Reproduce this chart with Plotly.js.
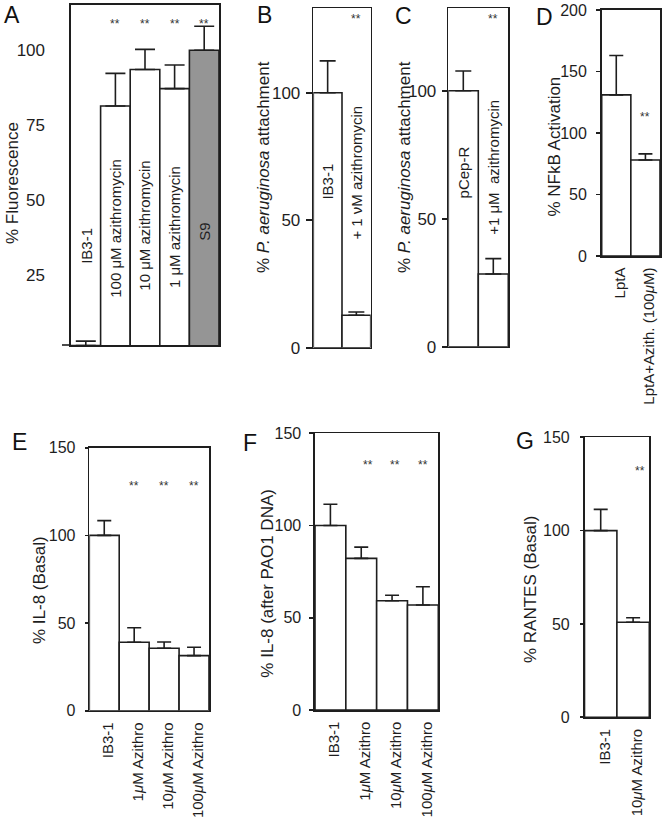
<!DOCTYPE html>
<html><head><meta charset="utf-8">
<script src="https://cdn.plot.ly/plotly-3.0.1.min.js"></script>
<style>html,body{margin:0;padding:0;background:#fff}#chart{width:665px;height:832px}</style>
</head><body><div id="chart"></div>
<script>
// ---------- data ----------
const catsA = ["IB3-1", "100 μM azithromycin", "10 μM azithromycin", "1 μM azithromycin", "S9"];
const valsA = [1.5, 81.4, 93.6, 87.2, 100];
const errA  = [1.5, 10.9, 6.7, 7.9, 8];
const sigA  = ["", "**", "**", "**", "**"];

const catsB = ["IB3-1", "+ 1 νM azithromycin"];
const valsB = [100, 12.7];
const errB  = [12.5, 1.3];
const sigB  = ["", "**"];

const catsC = ["pCep-R", "+1 μM\u00a0 azithromycin"];
const valsC = [100, 28.4];
const errC  = [7.7, 6];
const sigC  = ["", "**"];

const catsD = ["LptA", "LptA+Azith. (100<i>μ</i>M)"];
const valsD = [131, 78];
const errD  = [32, 5];
const sigD  = ["", "**"];

const catsE = ["IB3-1", "1<i>μ</i>M Azithro", "10<i>μ</i>M Azithro", "100<i>μ</i>M Azithro"];
const valsE = [100, 39, 35.6, 31.4];
const errE  = [8.4, 8.3, 3.6, 4.8];
const sigE  = ["", "**", "**", "**"];

const catsF = ["IB3-1", "1<i>μ</i>M Azithro", "10<i>μ</i>M Azithro", "100<i>μ</i>M Azithro"];
const valsF = [100, 82.2, 59.2, 56.9];
const errF  = [11.5, 6.1, 3, 9.9];
const sigF  = ["", "**", "**", "**"];

const catsG = ["IB3-1", "10<i>μ</i>M Azithro"];
const valsG = [100, 50.9];
const errG  = [11.4, 2.4];
const sigG  = ["", "**"];

// ---------- layout helpers ----------
const W = 665, H = 832;
const FONT = '"Liberation Sans", Arial, Helvetica, sans-serif';
const INK = '#1e1e1e';
const dx = (l, r) => [l / W, r / W];
const dy = (t, b) => [1 - b / H, 1 - t / H];

const panels = [
  {cats: catsA, vals: valsA, err: errA, sig: sigA, colors: ['#fff','#fff','#fff','#fff','#959595'],
   x: [71, 219], y: [5, 345], range: [1.7, 115.1], tickvals: [25, 50, 75, 100], ticklen: 0, stand: 21, tfs: 17,
   starY: 108.7, cap: 10, title: '% Fluorescence', tpos: [12, 183], letter: 'A', lpos: [11.5, 15],
   showX: false, labelY: [34.7, 40.6, 41.5, 40.9, 39.5]},
  {cats: catsB, vals: valsB, err: errB, sig: sigB,
   x: [313.3, 370.7], y: [8.3, 347.7], range: [0, 133.1], tickvals: [0, 50, 100], ticklen: 6, stand: 2, tfs: 17,
   starY: 129, cap: 8, title: '% <i>P. aeruginosa</i> attachment', tpos: [263, 167], letter: 'B', lpos: [264.5, 15],
   showX: false, labelY: [65, 68.8]},
  {cats: catsC, vals: valsC, err: errC, sig: sigC,
   x: [448.3, 508.3], y: [8.3, 346.7], range: [0, 132.2], tickvals: [0, 50, 100], ticklen: 5, stand: 2, tfs: 17,
   starY: 128, cap: 8, title: '% <i>P. aeruginosa</i> attachment', tpos: [404, 167], letter: 'C', lpos: [403, 16],
   showX: false, labelY: [68.2, 70]},
  {cats: catsD, vals: valsD, err: errD, sig: sigD,
   x: [601.7, 660], y: [10, 256], range: [0, 200], tickvals: [0, 50, 100, 150, 200], ticklen: 4, stand: 6, tfs: 16,
   starY: 112.8, cap: 7, title: '% NFkB Activation', tpos: [553.5, 147], letter: 'D', lpos: [544, 17],
   showX: true},
  {cats: catsE, vals: valsE, err: errE, sig: sigE,
   x: [89.3, 209], y: [447.7, 710.7], range: [0, 150], tickvals: [0, 50, 100, 150], ticklen: 3, stand: 6, tfs: 16,
   starY: 128.2, cap: 7, title: '% IL-8 (Basal)', tpos: [39, 590], letter: 'E', lpos: [19, 442],
   showX: true},
  {cats: catsF, vals: valsF, err: errF, sig: sigF, starShift: [0, 7, 3, 0],
   x: [315, 438.3], y: [433.3, 710], range: [0, 150], tickvals: [0, 50, 100, 150], ticklen: 4, stand: 5, tfs: 16,
   starY: 132.8, cap: 7, title: '% IL-8 (after PAO1 DNA)', tpos: [266.7, 583], letter: 'F', lpos: [250, 443],
   showX: true},
  {cats: catsG, vals: valsG, err: errG, sig: sigG, starShift: [0, 7],
   x: [584.5, 649.3], y: [437.3, 717.3], range: [0, 150], tickvals: [0, 50, 100, 150], ticklen: 3, stand: 7, tfs: 16,
   starY: 132.1, cap: 7, title: '% RANTES (Basal)', tpos: [530, 590], letter: 'G', lpos: [525, 441],
   showX: true}
];

const data = [];
const layout = {
  width: W, height: H, margin: {l: 0, r: 0, t: 0, b: 0},
  paper_bgcolor: '#fff', plot_bgcolor: '#fff', showlegend: false,
  bargap: 0, font: {family: FONT, color: INK},
  annotations: [], shapes: []
};

panels.forEach((p, i) => {
  const n = i === 0 ? '' : String(i + 1);
  const xa = 'x' + n, ya = 'y' + n;
  data.push({
    type: 'bar', x: p.cats, y: p.vals, xaxis: xa, yaxis: ya,
    marker: {color: p.colors || p.cats.map(() => '#fff'), line: {color: INK, width: 1.6}},
    error_y: {type: 'data', symmetric: false, array: p.err, arrayminus: p.err.map(() => 0),
              color: INK, thickness: 1.6, width: p.cap},
    hoverinfo: 'skip'
  });
  layout['xaxis' + n] = {
    domain: dx(p.x[0], p.x[1]), anchor: ya, type: 'category',
    showline: true, mirror: true, linecolor: INK, linewidth: 1.6,
    showgrid: false, zeroline: false, ticks: '',
    showticklabels: p.showX, tickangle: -90, ticklabelstandoff: 4, ticklabelshift: 4,
    ticklabeloverflow: 'allow',
    tickfont: {family: FONT, size: 15, color: INK}
  };
  layout['yaxis' + n] = {
    domain: dy(p.y[0], p.y[1]), anchor: xa, range: p.range,
    tickmode: 'array', tickvals: p.tickvals,
    ticks: p.ticklen ? 'outside' : '', ticklen: p.ticklen, tickwidth: 1.6, tickcolor: INK,
    ticklabelstandoff: p.stand, ticklabeloverflow: 'allow',
    showline: true, mirror: true, linecolor: INK, linewidth: 1.6,
    showgrid: false, zeroline: false,
    tickfont: {family: FONT, size: p.tfs, color: INK}
  };
  // y title
  layout.annotations.push({
    xref: 'paper', yref: 'paper', x: p.tpos[0] / W, y: 1 - p.tpos[1] / H,
    text: p.title, textangle: -90, showarrow: false, xanchor: 'center', yanchor: 'middle',
    font: {family: FONT, size: 17, color: INK}
  });
  // panel letter
  layout.annotations.push({
    xref: 'paper', yref: 'paper', x: p.lpos[0] / W, y: 1 - p.lpos[1] / H,
    text: p.letter, showarrow: false, xanchor: 'center', yanchor: 'middle',
    font: {family: FONT, size: 23, color: '#111'}
  });
  // significance stars
  p.sig.forEach((s, k) => {
    if (!s) return;
    layout.annotations.push({
      xref: xa, yref: ya, x: p.cats[k], y: p.starY, text: s, showarrow: false,
      xshift: p.starShift ? p.starShift[k] : 0, font: {family: FONT, size: 12, color: '#333'}
    });
  });
  // in-bar labels
  if (p.labelY) {
    p.cats.forEach((c, k) => {
      layout.annotations.push({
        xref: xa, yref: ya, x: c, y: p.labelY[k], text: c, textangle: -90, showarrow: false,
        xanchor: 'center', yanchor: 'middle', font: {family: FONT, size: 15, color: INK}
      });
    });
  }
});

// panel A baseline extends past the left frame
layout.shapes.push({type: 'line', xref: 'paper', yref: 'paper',
  x0: 62 / W, x1: 71 / W, y0: 1 - 345 / H, y1: 1 - 345 / H, line: {color: INK, width: 1.6}});

Plotly.newPlot('chart', data, layout, {staticPlot: true, displayModeBar: false});
</script>
</body></html>
